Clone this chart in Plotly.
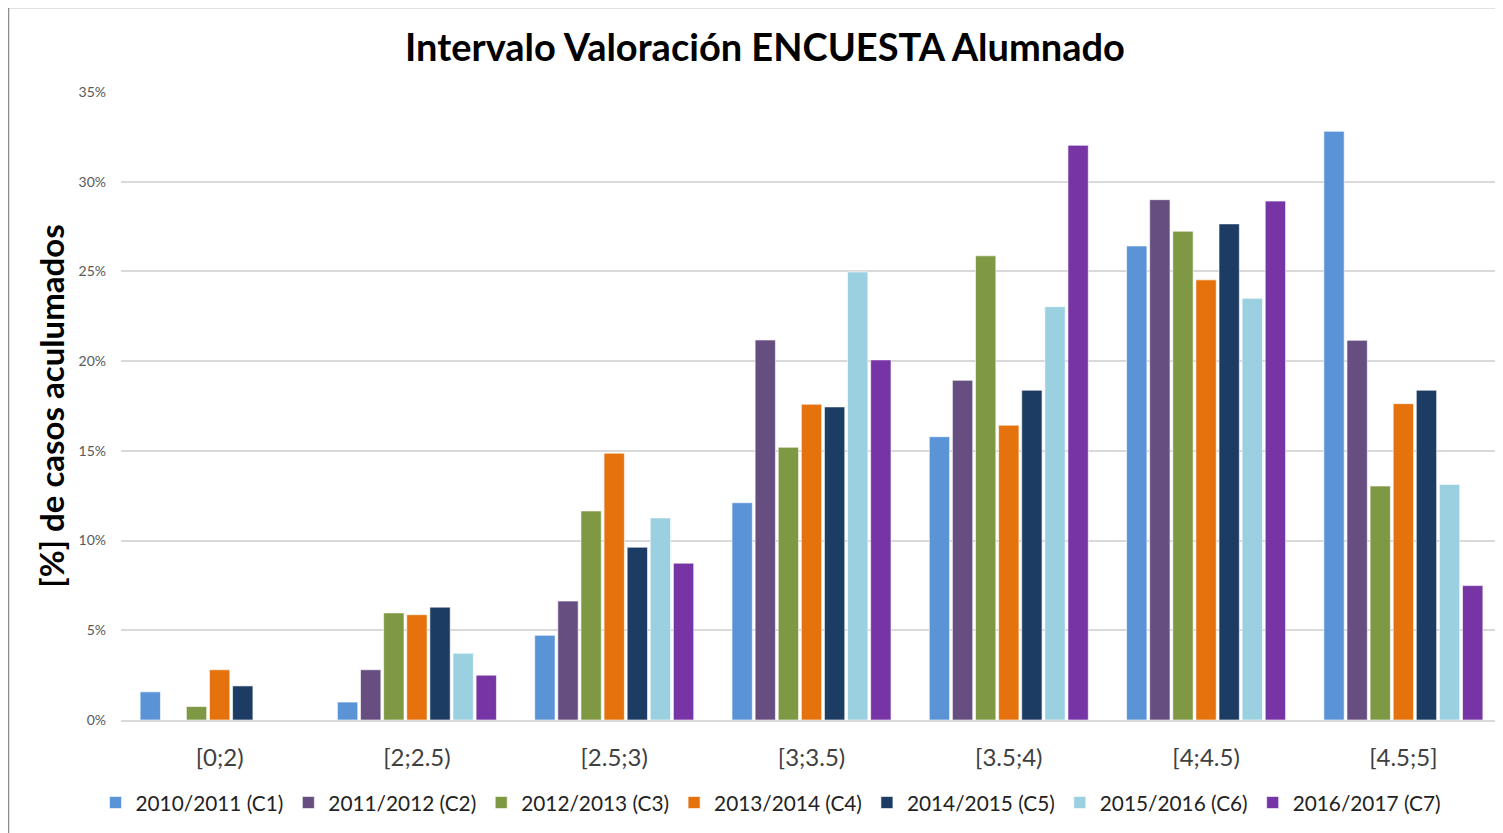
import plotly.graph_objects as go

categories = ["[0;2)", "[2;2.5)", "[2.5;3)", "[3;3.5)", "[3.5;4)", "[4;4.5)", "[4.5;5]"]
series_names = ["2010/2011 (C1)", "2011/2012 (C2)", "2012/2013 (C3)", "2013/2014 (C4)",
                "2014/2015 (C5)", "2015/2016 (C6)", "2016/2017 (C7)"]
c1 = [1.57, 1.00, 4.72, 12.11, 15.79, 26.42, 32.81]
c2 = [0.00, 2.80, 6.63, 21.18, 18.93, 29.00, 21.16]
c3 = [0.75, 5.97, 11.65, 15.20, 25.87, 27.24, 13.04]
c4 = [2.80, 5.87, 14.87, 17.60, 16.43, 24.53, 17.63]
c5 = [1.90, 6.29, 9.63, 17.45, 18.38, 27.65, 18.38]
c6 = [0.00, 3.72, 11.26, 24.97, 23.03, 23.50, 13.13]
c7 = [0.00, 2.50, 8.74, 20.07, 32.03, 28.92, 7.49]
series_values = [c1, c2, c3, c4, c5, c6, c7]
colors = ["#5B94D6", "#664F80", "#7E9843", "#E5720C", "#1D3C63", "#9AD0E0", "#7634A5"]
yticks = [0, 5, 10, 15, 20, 25, 30, 35]
ytick_labels = ["0%", "5%", "10%", "15%", "20%", "25%", "30%", "35%"]

fig = go.Figure()
for name, vals, col in zip(series_names, series_values, colors):
    fig.add_trace(go.Bar(
        x=categories, y=vals, name=name,
        marker=dict(color=col, line=dict(color="rgba(255,255,255,0.6)", width=1)),
    ))

# page offset of 8px (browser body margin) -> work in reference pixel coords minus 8
OFF = 8
W, H = 1495, 825
L, T = 121 - OFF, 92 - OFF
pw, ph = 1381, 628
R = W - L - pw
B = H - T - ph

def px_x(x):
    return (x - OFF - L) / pw

def px_y(y):
    return (T + ph - (y - OFF)) / ph

fig.update_layout(
    width=W, height=H,
    margin=dict(l=L, r=R, t=T, b=B),
    paper_bgcolor="white", plot_bgcolor="white",
    font=dict(family="Lato, 'Open Sans', sans-serif", color="#404040"),
    barmode="group", bargap=0.18, bargroupgap=0.12,
    title=dict(text="<b>Intervalo Valoración ENCUESTA Alumnado</b>",
               x=px_x(765), xref="paper", xanchor="center",
               y=1 - (48 - OFF) / H, yref="container", yanchor="middle",
               font=dict(size=38, color="black", family="Lato, sans-serif")),
    showlegend=True,
    legend=dict(orientation="h", x=px_x(771), xanchor="center",
                y=px_y(803), yanchor="middle", font=dict(size=20.8, color="#222222"),
                itemwidth=30, traceorder="normal", itemclick=False),
    xaxis=dict(type="category", showgrid=False, showline=True, linecolor="#D9D9D9",
               linewidth=2, ticks="", tickfont=dict(size=24, color="#404040"),
               ticklabelstandoff=15),
    yaxis=dict(range=[0, 35], tickvals=yticks, ticktext=ytick_labels,
               showgrid=True, gridcolor="#D9D9D9", gridwidth=1.5, zeroline=False,
               tickfont=dict(size=14, color="#595959"), ticks="",
               ticklabelstandoff=14,
               title=dict(text="<b>[%] de casos aculumados</b>",
                          font=dict(size=33, color="black", family="Lato, sans-serif"),
                          standoff=3)),
)

# outer chart frame (Excel-style border)
fig.add_shape(type="rect", xref="paper", yref="paper",
              x0=px_x(8.5), x1=px_x(1540), y0=px_y(880), y1=px_y(7.5),
              line=dict(color="#8C8C8C", width=1.5), fillcolor="rgba(0,0,0,0)", layer="below")

fig.write_html("out.html")
